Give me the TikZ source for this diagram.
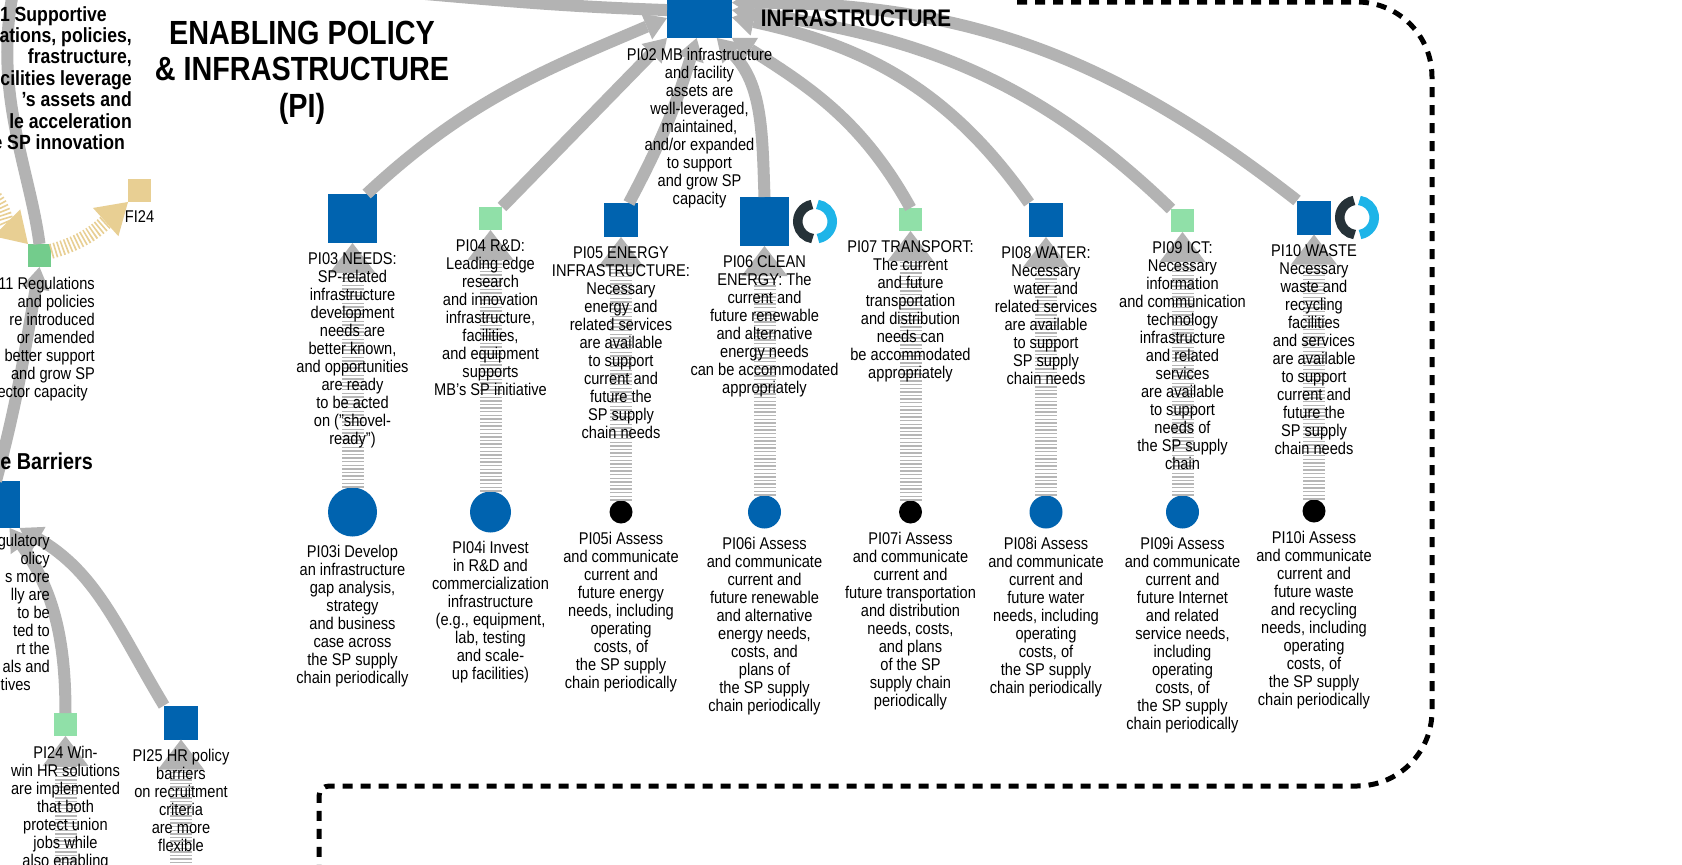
\documentclass[tikz,border=0pt]{standalone}
\usepackage{fontspec}
\setmainfont{Liberation Sans}[FakeStretch=0.86]
\usetikzlibrary{arrows.meta,positioning,calc}
\definecolor{pblue}{RGB}{0,99,175}
\definecolor{pgreen}{RGB}{144,224,168}
\definecolor{pgreendk}{RGB}{115,204,140}
\definecolor{ptan}{RGB}{232,207,147}
\definecolor{agray}{RGB}{179,179,179}
\definecolor{sgray}{RGB}{182,182,182}
\definecolor{ringdark}{RGB}{38,50,56}
\definecolor{ringblue}{RGB}{30,180,232}
\begin{document}
\begin{tikzpicture}[x=1pt,y=1pt,
  sq/.style={rectangle, minimum size=#1pt, inner sep=0pt, outer sep=0pt},
  bsq/.style={sq=#1, fill=pblue},
  gsq/.style={sq=#1, fill=pgreen},
  tsq/.style={sq=#1, fill=ptan},
  bdot/.style={circle, minimum size=#1pt, inner sep=0pt, outer sep=0pt, fill=pblue},
  kdot/.style={circle, minimum size=#1pt, inner sep=0pt, outer sep=0pt, fill=black},
  txt/.style={align=center, inner sep=0pt, font=\fontsize{17}{18}\selectfont},
  rtxt/.style={align=right, inner sep=0pt, font=\fontsize{17}{18}\selectfont},
  garrow/.style={draw=agray, line width=12pt, -{Triangle[width=28pt,length=22pt,line width=0pt]}},
  gline/.style={draw=agray, line width=12pt},
  stripe/.style={draw=sgray, line width=22pt, dash pattern=on 1.4pt off 2.2pt,
     -{Triangle[width=46pt,length=30pt,line width=0pt,fill=agray]}},
  tstripe/.style={draw=ptan, line width=15pt, dash pattern=on 1.6pt off 2.2pt,
     -{Triangle[width=38pt,length=30pt,line width=0pt,fill=ptan]}},
  dashbox/.style={draw=black, line width=5pt, dash pattern=on 10pt off 8pt},
  ringd/.style={draw=ringdark, line width=9.5pt},
  ringb/.style={draw=ringblue, line width=9.5pt}
]
\useasboundingbox (0,0) rectangle (1682,-865);
\fill[white] (0,0) rectangle (1682,-865);

% dashed frame
\draw[dashbox] (1017,-2) -- (1357,-2) arc[start angle=90,end angle=0,radius=75]
  -- (1432,-711) arc[start angle=0,end angle=-90,radius=75]
  -- (329,-786) arc[start angle=90,end angle=180,radius=10] -- (319,-880);

% squares
\node[bsq=65] (s02) at (699.5,-5.5) {};
\node[bsq=49] (s03) at (352.5,-218.5) {};
\node[gsq=23] (s04) at (490.5,-218.5) {};
\node[bsq=34] (s05) at (621,-220) {};
\node[bsq=49] (s06) at (764.5,-221.5) {};
\node[gsq=23] (s07) at (910.5,-219.5) {};
\node[bsq=34] (s08) at (1046,-220) {};
\node[gsq=23] (s09) at (1182.5,-220.5) {};
\node[bsq=34] (s10) at (1314,-217.5) {};
\node[sq=23, fill=pgreendk] (s11) at (39.5,-255.5) {};
\node[bsq=47] (s12) at (-4,-504.5) {};
\node[gsq=23] (s24) at (65.5,-724.5) {};
\node[bsq=34] (s25) at (181,-722.5) {};
\node[tsq=23] (f24) at (139.5,-190.5) {};

% circles
\node[bdot=49] (c03) at (352.5,-512) {};
\node[bdot=41] (c04) at (490.5,-512) {};
\node[kdot=23] (c05) at (621,-512) {};
\node[bdot=33] (c06) at (764.5,-512) {};
\node[kdot=23] (c07) at (910.5,-512) {};
\node[bdot=33] (c08) at (1046,-512) {};
\node[bdot=33] (c09) at (1182.5,-512) {};
\node[kdot=23] (c10) at (1314,-511) {};

% rings
\coordinate (r06) at ($(s06.east)+(26,0)$);
\coordinate (r10) at ($(s10.east)+(26,0)$);
\draw[ringd] ($(r06)+(100:17.25)$) arc[start angle=100,end angle=262,radius=17.25];
\draw[ringb] ($(r06)+(-80:17.25)$) arc[start angle=-80,end angle=82,radius=17.25];
\draw[ringd] ($(r10)+(100:17.25)$) arc[start angle=100,end angle=262,radius=17.25];
\draw[ringb] ($(r10)+(-80:17.25)$) arc[start angle=-80,end angle=82,radius=17.25];

% off-picture ends
\coordinate (top02) at (380,10);
\coordinate (top11) at (14,12);
\coordinate (bot24) at (65.5,-885);
\coordinate (bot25) at (181,-885);
\coordinate (tanL) at (-25,-180);

% striped arrows
\foreach \n in {03,04,05,06,07,08,09,10}{
  \draw[stripe] (c\n) -- (s\n);
}
\draw[stripe] (bot24) -- (s24);
\draw[stripe] (bot25) -- (s25);

% gray arrows into PI02
\draw[gline] (s02.188) to[out=178,in=-5] (top02);
\draw[garrow] (s03.60) to[out=43,in=203] (s02.201);
\draw[garrow] (s04.north east) -- (s02.south west);
\draw[garrow] (s05.65) to[out=62,in=253] (s02.265);
\draw[garrow] (s06.north) to[out=92,in=-45] (s02.-62);
\draw[garrow] (s07.north) to[out=119,in=-32] (s02.south east);
\draw[garrow] (s08.north west) to[out=125,in=-12] (s02.-20);
\draw[garrow] (s09.north west) to[out=136,in=-8] (s02.-8);
\draw[garrow] (s10.north west) to[out=142,in=0] (s02.5);

% left side
\draw[gline] (s11.north) .. controls (30,-170) and (-8,-90) .. (top11);
\draw[garrow] (s12.north) to[out=75,in=-100] (s11.south);
\draw[garrow] (s24.north) to[out=90,in=-55] (s12.-60);
\draw[garrow] (s25.north west) to[out=121,in=-30] (s12.south east);
\draw[tstripe] (s11.20) to[out=15,in=222] (f24.south west);
\draw[tstripe] (tanL) to[out=-30,in=135] (s11.north west);

% titles
\node[align=center, inner sep=0pt, anchor=north, font=\bfseries\fontsize{33.5}{36.3}\selectfont] (title) at (302,-21) {ENABLING POLICY\\\& INFRASTRUCTURE\\(PI)};
\node[inner sep=0pt, font=\bfseries\fontsize{24}{26}\selectfont] (infra) at (856,-18) {INFRASTRUCTURE};
\node[align=right, inner sep=0pt, anchor=north east, font=\bfseries\fontsize{20.5}{21.4}\selectfont] (t01) at (132,-6)
 {1 Supportive\hspace*{25pt}\\ations, policies,\hspace*{4pt}\\frastructure,\hspace*{32pt}\\cilities leverage\\’s assets and\hspace*{23pt}\\le acceleration\hspace*{10pt}\\e SP innovation\hspace*{7pt}};
\node[inner sep=0pt, anchor=east, font=\bfseries\fontsize{23}{25}\selectfont] (tbar) at (93,-461) {e Barriers};

% texts
\node[txt, below=10pt of s02] (t02) {PI02 MB infrastructure\\and facility\\assets are\\well-leveraged,\\maintained,\\and/or expanded\\to support\\and grow SP\\capacity};
\node[txt, below=9.5pt of s03] (t03) {PI03 NEEDS:\\SP-related\\infrastructure\\development\\needs are\\better known,\\and opportunities\\are ready\\to be acted\\on ("shovel-\\ready")};
\node[txt, below=9.5pt of s04] (t04) {PI04 R\&D:\\Leading edge\\research\\and innovation\\infrastructure,\\facilities,\\and equipment\\supports\\MB’s SP initiative};
\node[txt, below=9.5pt of s05] (t05) {PI05 ENERGY\\INFRASTRUCTURE:\\Necessary\\energy and\\related services\\are available\\to support\\current and\\future the\\SP supply\\chain needs};
\node[txt, below=9.5pt of s06] (t06) {PI06 CLEAN\\ENERGY: The\\current and\\future renewable\\and alternative\\energy needs\\can be accommodated\\appropriately};
\node[txt, below=9.5pt of s07] (t07) {PI07 TRANSPORT:\\The current\\and future\\transportation\\and distribution\\needs can\\be accommodated\\appropriately};
\node[txt, below=9.5pt of s08] (t08) {PI08 WATER:\\Necessary\\water and\\related services\\are available\\to support\\SP supply\\chain needs};
\node[txt, below=9.5pt of s09] (t09) {PI09 ICT:\\Necessary\\information\\and communication\\technology\\infrastructure\\and related\\services\\are available\\to support\\needs of\\the SP supply\\chain};
\node[txt, below=9.5pt of s10] (t10) {PI10 WASTE\\Necessary\\waste and\\recycling\\facilities\\and services\\are available\\to support\\current and\\future the\\SP supply\\chain needs};

\node[txt, below=8.5pt of c03] (i03) {PI03i Develop\\an infrastructure\\gap analysis,\\strategy\\and business\\case across\\the SP supply\\chain periodically};
\node[txt, below=8.5pt of c04] (i04) {PI04i Invest\\in R\&D and\\commercialization\\infrastructure\\(e.g., equipment,\\lab, testing\\and scale-\\up facilities)};
\node[txt, below=8.5pt of c05] (i05) {PI05i Assess\\and communicate\\current and\\future energy\\needs, including\\operating\\costs, of\\the SP supply\\chain periodically};
\node[txt, below=8.5pt of c06] (i06) {PI06i Assess\\and communicate\\current and\\future renewable\\and alternative\\energy needs,\\costs, and\\plans of\\the SP supply\\chain periodically};
\node[txt, below=8.5pt of c07] (i07) {PI07i Assess\\and communicate\\current and\\future transportation\\and distribution\\needs, costs,\\and plans\\of the SP\\supply chain\\periodically};
\node[txt, below=8.5pt of c08] (i08) {PI08i Assess\\and communicate\\current and\\future water\\needs, including\\operating\\costs, of\\the SP supply\\chain periodically};
\node[txt, below=8.5pt of c09] (i09) {PI09i Assess\\and communicate\\current and\\future Internet\\and related\\service needs,\\including\\operating\\costs, of\\the SP supply\\chain periodically};
\node[txt, below=8.5pt of c10] (i10) {PI10i Assess\\and communicate\\current and\\future waste\\and recycling\\needs, including\\operating\\costs, of\\the SP supply\\chain periodically};

\node[rtxt, anchor=north east] (t11) at (95,-276.5) {11 Regulations\\and policies\hspace*{17pt}\\re introduced\hspace*{9pt}\\or amended\hspace*{17pt}\\better support\hspace*{2pt}\\and grow SP\hspace*{18pt}\\ector capacity\hspace*{7pt}};
\node[rtxt, anchor=north east] (t12) at (50,-533.5) {gulatory\\olicy\hspace*{18pt}\\s more\hspace*{8pt}\\lly are\hspace*{9pt}\\to be\hspace*{19pt}\\ted to\hspace*{17pt}\\rt the\hspace*{15pt}\\als and\hspace*{8pt}\\tives\hspace*{19pt}};
\node[txt, below=9.5pt of s24] (t24) {PI24 Win-\\win HR solutions\\are implemented\\that both\\protect union\\jobs while\\also enabling};
\node[txt, below=9.5pt of s25] (t25) {PI25 HR policy\\barriers\\on recruitment\\criteria\\are more\\flexible};
\node[inner sep=0pt, font=\fontsize{17}{18}\selectfont] (tf24) at (139.5,-217) {FI24};
\end{tikzpicture}
\end{document}
